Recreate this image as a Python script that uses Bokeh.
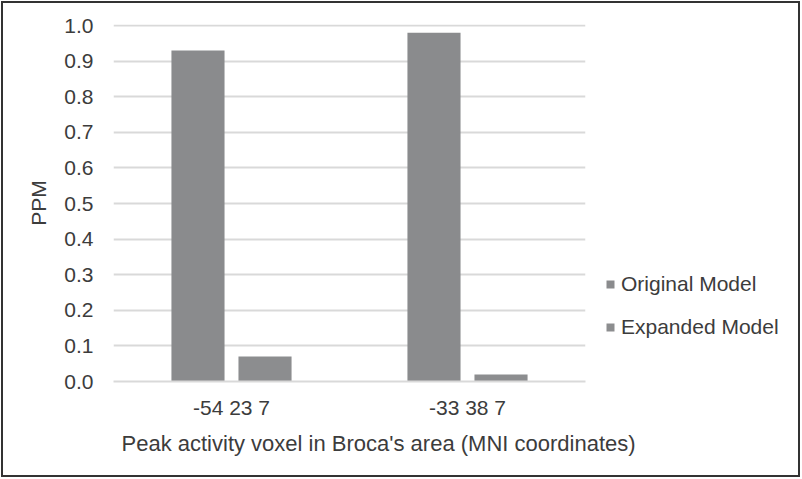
from bokeh.plotting import figure
from bokeh.layouts import row, column
from bokeh.models import (ColumnDataSource, FactorRange, Range1d, FixedTicker,
                          NumeralTickFormatter, Legend, LegendItem, Label)
from bokeh.transform import dodge
from bokeh.embed import file_html
from bokeh.resources import INLINE

categories = ["-54 23 7", "-33 38 7"]
original_model = [0.93, 0.98]
expanded_model = [0.07, 0.02]
series_names = ["Original Model", "Expanded Model"]
y_ticks = [0.0, 0.1, 0.2, 0.3, 0.4, 0.5, 0.6, 0.7, 0.8, 0.9, 1.0]
y_label = "PPM"
x_label = "Peak activity voxel in Broca's area (MNI coordinates)"

FONT = "Liberation Sans"
TXT = "#3c3c3c"
FS = "21px"
BAR1 = "#8a8b8d"
BAR2 = "#8c8d8f"
GRID = "#d9d9d9"

src = ColumnDataSource(dict(cat=categories, orig=original_model, exp=expanded_model))

# ---- main plot
p = figure(x_range=FactorRange(factors=categories, range_padding=0),
           y_range=Range1d(0, 1.003),
           width=585, height=420, output_backend="svg", toolbar_location=None,
           min_border_left=110, min_border_right=3, min_border_top=21,
           min_border_bottom=42)
p.outline_line_color = None
p.background_fill_color = "white"
p.border_fill_color = "white"

r1 = p.vbar(x=dodge("cat", -0.142, range=p.x_range), top="orig", width=0.225,
            source=src, fill_color=BAR1, line_color=None)
r2 = p.vbar(x=dodge("cat", 0.142, range=p.x_range), top="exp", width=0.225,
            source=src, fill_color=BAR2, line_color=None)

p.yaxis.ticker = FixedTicker(ticks=y_ticks)
p.yaxis.formatter = NumeralTickFormatter(format="0.0")
p.yaxis.axis_line_color = None
p.yaxis.major_tick_line_color = None
p.yaxis.major_tick_out = 0
p.yaxis.major_tick_in = 0
p.yaxis.minor_tick_line_color = None
p.yaxis.major_label_standoff = 20
p.yaxis.axis_label = y_label
p.yaxis.axis_label_standoff = 11
p.yaxis.axis_label_text_font_style = "normal"

p.xaxis.axis_line_color = GRID
p.xaxis.axis_line_width = 2
p.xaxis.major_tick_line_color = None
p.xaxis.major_tick_out = 0
p.xaxis.major_tick_in = 0
p.xaxis.minor_tick_line_color = None
p.xaxis.major_label_standoff = 14

for ax in (p.xaxis, p.yaxis):
    ax.major_label_text_font = FONT
    ax.major_label_text_font_size = FS
    ax.major_label_text_color = TXT
    ax.axis_label_text_font = FONT
    ax.axis_label_text_font_size = FS
    ax.axis_label_text_color = TXT

p.xgrid.grid_line_color = None
p.ygrid.grid_line_color = GRID
p.ygrid.grid_line_width = 2
p.ygrid.ticker = FixedTicker(ticks=y_ticks)

# ---- legend panel (same data, bars kept far outside its visible range)
lp = figure(x_range=FactorRange(factors=categories, range_padding=0),
            y_range=Range1d(5, 6), width=210, height=420,
            output_backend="svg", toolbar_location=None,
            x_axis_location=None, y_axis_location=None, min_border=0)
lp.outline_line_color = None
lp.xgrid.grid_line_color = None
lp.ygrid.grid_line_color = None
lr1 = lp.vbar(x=dodge("cat", 20, range=lp.x_range), top="orig", width=0.225,
              source=src, fill_color=BAR1, line_color=None)
lr2 = lp.vbar(x=dodge("cat", 20, range=lp.x_range), top="exp", width=0.225,
              source=src, fill_color=BAR2, line_color=None)

legend = Legend(items=[LegendItem(label=series_names[0], renderers=[lr1]),
                       LegendItem(label=series_names[1], renderers=[lr2])],
                location=(17, 42), orientation="vertical")
legend.glyph_width = 10
legend.glyph_height = 10
legend.label_height = 20
legend.spacing = 19
legend.padding = 0
legend.margin = 0
legend.label_standoff = 6
legend.label_text_font = FONT
legend.label_text_font_size = FS
legend.label_text_color = TXT
legend.border_line_color = None
legend.background_fill_alpha = 0
lp.add_layout(legend, "center")

# ---- x-axis title strip
tf = figure(x_range=Range1d(0, 1), y_range=Range1d(0, 1), width=795, height=52,
            output_backend="svg", toolbar_location=None,
            x_axis_location=None, y_axis_location=None, min_border=0)
tf.outline_line_color = None
tf.xgrid.grid_line_color = None
tf.ygrid.grid_line_color = None
tf.add_layout(Label(x=118, y=32, x_units="screen", y_units="screen", text=x_label,
                    text_baseline="alphabetic", text_font=FONT,
                    text_font_size="22px", text_color=TXT))

layout = column(row(p, lp), tf)
layout.styles = {"border": "2px solid #333333", "margin": "1px"}

open("out.html", "w").write(file_html(layout, INLINE))
